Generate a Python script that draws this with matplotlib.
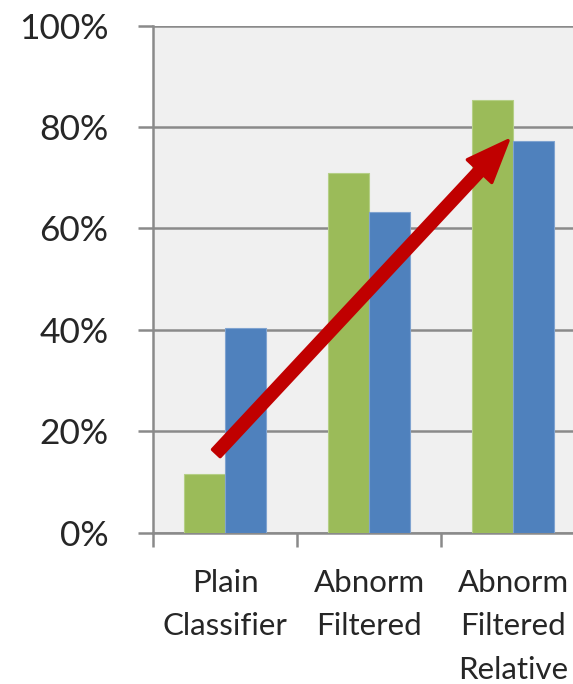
import matplotlib
matplotlib.use("Agg")
import matplotlib.pyplot as plt
from matplotlib.patches import FancyArrowPatch
from matplotlib.ticker import FixedLocator, PercentFormatter

# Data
categories = ["Plain\nClassifier", "Abnorm\nFiltered", "Abnorm\nFiltered\nRelative"]
green_values = [11.5, 70.9, 85.3]
blue_values = [40.3, 63.3, 77.3]
y_ticks = [0, 20, 40, 60, 80, 100]

# Trend arrow endpoints (category index, percent)
arrow_tail = (-0.06, 15.7)
arrow_head = (1.965, 77.3)

GREEN = "#9BBB59"
BLUE = "#4F81BD"
RED = "#C00000"
GRID = "#8A8A8A"
TEXT = "#262626"

plt.rcParams["font.family"] = ["Lato", "DejaVu Sans"]

fig = plt.figure(figsize=(5.73, 6.84), dpi=100)
ax = fig.add_axes([0.267, 0.2212, 0.754, 0.7415])
ax.set_facecolor("#F0F0F0")

x = list(range(len(categories)))
bw = 0.285
ax.bar([i - bw / 2 for i in x], green_values, width=bw, color=GREEN,
       edgecolor="#B5CF86", linewidth=0.8, zorder=3)
ax.bar([i + bw / 2 for i in x], blue_values, width=bw, color=BLUE,
       edgecolor="#7FA3D0", linewidth=0.8, zorder=3)

ax.set_xlim(-0.5, 2.5)
ax.set_ylim(0, 100)

# y axis: percent ticks with gridlines
ax.yaxis.set_major_locator(FixedLocator(y_ticks))
ax.yaxis.set_major_formatter(PercentFormatter(decimals=0))
ax.grid(axis="y", color=GRID, linewidth=1.8, zorder=1)
ax.tick_params(axis="y", which="major", direction="out", length=11, width=1.8,
               color=GRID, pad=21, labelsize=25.5, labelcolor=TEXT)

# x axis: tick marks between groups, labels at group centres
ax.xaxis.set_major_locator(FixedLocator([-0.5, 0.5, 1.5, 2.5]))
ax.xaxis.set_major_formatter(plt.NullFormatter())
ax.xaxis.set_minor_locator(FixedLocator(x))
ax.set_xticklabels(categories, minor=True)
ax.tick_params(axis="x", which="major", direction="out", length=10, width=1.8,
               color=GRID)
ax.tick_params(axis="x", which="minor", length=0, pad=26, labelsize=22.5,
               labelcolor=TEXT)
for lbl in ax.get_xticklabels(minor=True):
    lbl.set_linespacing(1.68)
    lbl.set_verticalalignment("top")

for side in ("top", "right"):
    ax.spines[side].set_visible(False)
for side in ("left", "bottom"):
    ax.spines[side].set_color(GRID)
    ax.spines[side].set_linewidth(1.8)

arrow = FancyArrowPatch(arrow_tail, arrow_head,
                        arrowstyle="simple,head_length=30,head_width=24,tail_width=7.5",
                        mutation_scale=1, shrinkA=0, shrinkB=0,
                        color=RED, linewidth=2.5, joinstyle="round",
                        capstyle="butt", zorder=5)
ax.add_patch(arrow)

fig.savefig("out.png", dpi=100, facecolor="white")
